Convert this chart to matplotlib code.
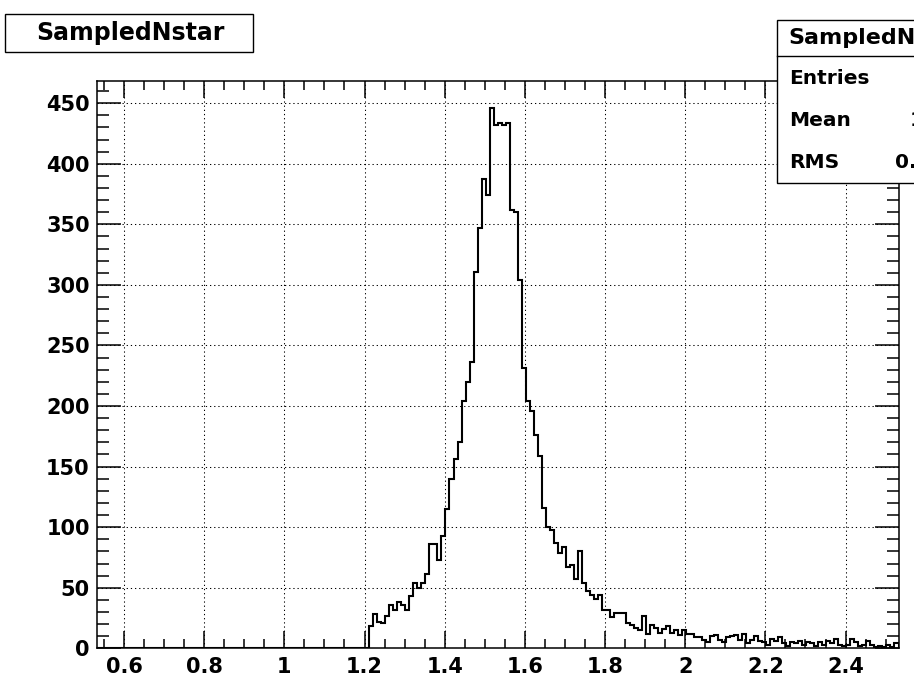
import numpy as np
import matplotlib
matplotlib.use('Agg')
import matplotlib.pyplot as plt
from matplotlib.ticker import MultipleLocator
from matplotlib.patches import Rectangle

# histogram definition: 200 bins of 0.01
x_lo = 0.532
x_hi = 2.532
n_bins = 200

# bin contents from bin 68 onwards (bins 0..67 are empty)
first_bin = 68
counts_tail = [
  18, 28, 22, 21, 27, 36, 32, 38, 36, 32,
  43, 54, 50, 54, 61, 86, 86, 73, 93, 115,
  140, 156, 170, 204, 220, 236, 311, 347, 387, 374,
  446, 432, 434, 432, 434, 362, 360, 304, 231, 204,
  196, 176, 159, 116, 100, 98, 87, 79, 84, 67,
  69, 57, 80, 54, 47, 44, 41, 44, 32, 32,
  26, 29, 29, 29, 21, 19, 17, 15, 27, 12,
  19, 17, 13, 16, 18, 13, 15, 11, 15, 12,
  12, 9, 9, 7, 5, 10, 11, 7, 5, 9,
  10, 11, 7, 12, 4, 7, 10, 6, 5, 3,
  8, 6, 9, 4, 2, 5, 4, 6, 3, 5,
  4, 2, 5, 3, 6, 4, 8, 3, 2, 3,
  8, 5, 2, 3, 6, 3, 1, 2, 1, 3,
  1, 4,
]

hist_title = 'SampledNstar'
stat_names = ['Entries', 'Mean', 'RMS']

counts = np.zeros(n_bins)
counts[first_bin:first_bin + len(counts_tail)] = counts_tail
edges = np.linspace(x_lo, x_hi, n_bins + 1)
centers = 0.5 * (edges[:-1] + edges[1:])

entries = counts.sum()
mean = (counts * centers).sum() / entries
rms = np.sqrt((counts * (centers - mean) ** 2).sum() / entries)
stat_vals = ['%d' % entries, '%.4g' % mean, '%.4g' % rms]

W, H = 914, 679
fig = plt.figure(figsize=(W / 100, H / 100), dpi=100)
fig.patch.set_facecolor('white')

def fx(px):
  return px / W

def fy(py):
  return 1 - py / H

ax = fig.add_axes([fx(96.7), fy(648.3), fx(898.5) - fx(96.7), fy(81) - fy(648.3)])
ax.stairs(counts, edges, color='black', lw=1.5)
ax.set_xlim(x_lo, x_hi)
ax.set_ylim(0, counts.max() * 1.05)

ax.xaxis.set_major_locator(MultipleLocator(0.2))
ax.xaxis.set_minor_locator(MultipleLocator(0.05))
ax.yaxis.set_major_locator(MultipleLocator(50))
ax.yaxis.set_minor_locator(MultipleLocator(10))

ax.tick_params(axis='x', which='major', direction='in', top=True, length=12.2, width=1.1, pad=6)
ax.tick_params(axis='x', which='minor', direction='in', top=True, length=6.2, width=1.1)
ax.tick_params(axis='y', which='major', direction='in', right=True, length=17, width=1.1, pad=5)
ax.tick_params(axis='y', which='minor', direction='in', right=True, length=8.5, width=1.1)
for lab in ax.get_xticklabels() + ax.get_yticklabels():
  lab.set_fontweight('bold')
  lab.set_fontsize(15)
ax.xaxis.set_major_formatter(plt.FuncFormatter(lambda v, p: ('%g' % round(v, 2))))

ax.grid(True, which='major', color='black', lw=0.75, linestyle=(0, (1.2, 2.8)))
for s in ax.spines.values():
  s.set_linewidth(1.1)

# title box, top left
fig.patches.append(Rectangle((fx(5), fy(52)), fx(253) - fx(5), fy(14) - fy(52),
                             transform=fig.transFigure, fill=True, facecolor='white',
                             edgecolor='black', lw=1.0))
fig.text(fx(130), fy(33), hist_title, ha='center', va='center',
         fontsize=17, fontweight='bold')

# statistics box, runs off the right edge
bx0, by0, bx1, by1 = 777, 20, 975, 183
fig.patches.append(Rectangle((fx(bx0), fy(by1)), fx(bx1) - fx(bx0), fy(by0) - fy(by1),
                             transform=fig.transFigure, fill=True, facecolor='white',
                             edgecolor='black', lw=1.0, zorder=5))
fig.lines.append(plt.Line2D([fx(bx0), fx(bx1)], [fy(56), fy(56)],
                            transform=fig.transFigure, color='black', lw=1.0, zorder=6))
fig.text(fx(bx0 + 11), fy(38), hist_title, ha='left', va='center',
         fontsize=16, fontweight='bold', zorder=7)
row_y = [78, 120, 162]
for name, val, ry in zip(stat_names, stat_vals, row_y):
  fig.text(fx(bx0 + 12), fy(ry), name, ha='left', va='center',
           fontsize=14.5, fontweight='bold', zorder=7)
  fig.text(fx(bx1 - 2), fy(ry), val, ha='right', va='center',
           fontsize=14.5, fontweight='bold', zorder=7)

fig.savefig('out.png', dpi=100)
